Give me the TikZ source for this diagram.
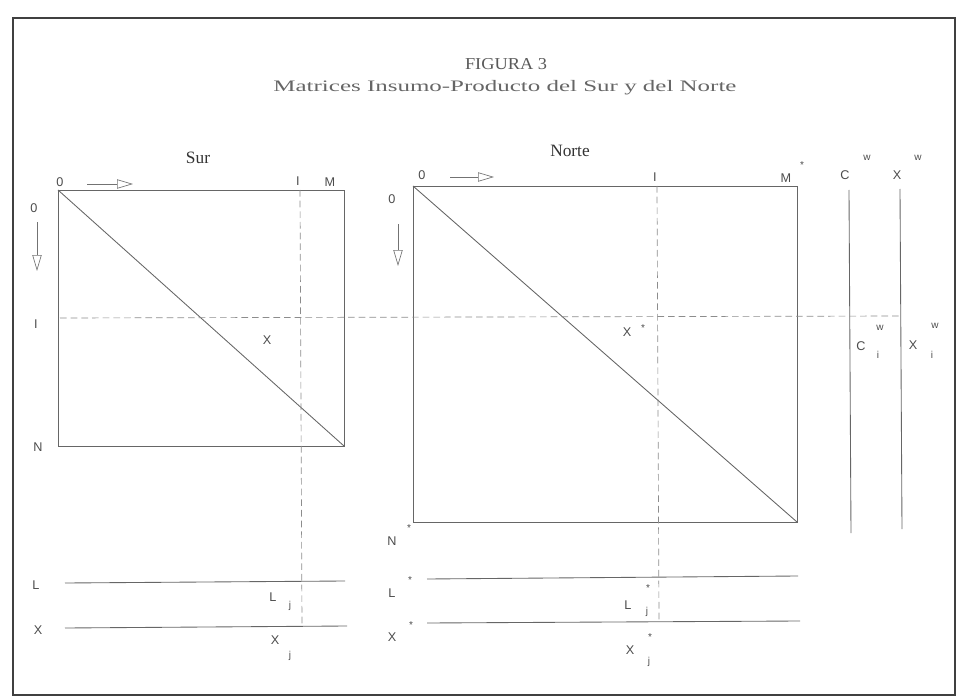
\documentclass[tikz,border=0pt]{standalone}
\usepackage{fontspec}
\setmainfont{Liberation Serif}
\setsansfont{Liberation Sans}
\newfontfamily\titlefont[FakeStretch=1.56]{Liberation Serif}
\newfontfamily\figfont[FakeStretch=1.1]{Liberation Serif}
\usetikzlibrary{positioning, arrows.meta}

\begin{document}
\begin{tikzpicture}[x=0.75pt, y=-0.75pt,
    lbl/.style={font=\sffamily\fontsize{9.5}{11}\selectfont, text=black!70, inner sep=0pt},
    idx/.style={font=\sffamily\fontsize{7.5}{8}\selectfont, text=black!70, inner sep=0pt},
    head/.style={font=\fontsize{13}{15}\selectfont, text=black!80, inner sep=0pt},
    rule/.style={draw=black!60, line width=0.65pt},
    guide/.style={draw=black!45, line width=0.5pt, dash pattern=on 5pt off 3pt},
    dirarr/.style={draw=black!55, line width=0.5pt,
                   -{Triangle[open, length=12pt, width=7pt]}}
  ]
    \useasboundingbox (0,0) rectangle (958,699);
    % frame
    \draw[draw=black!75, line width=1.2pt] (13,18) rectangle (955,695);
    % title
    \node[head, text=black!65, font=\figfont\fontsize{12.5}{15}\selectfont] (fig) at (506,64) {FIGURA 3};
    \node[head, text=black!60, font=\titlefont\fontsize{12}{14}\selectfont] (sub) at (505,88)
      {Matrices Insumo-Producto del Sur y del Norte};
    \node[head] (sur) at (198,158) {Sur};
    \node[head] (norte) at (570,151) {Norte};

    % Sur matrix
    \coordinate (s00) at (58,190);
    \coordinate (sNM) at (344,446);
    \draw[rule] (s00) rectangle (sNM);
    \draw[rule] (s00) -- (sNM);
    \node[lbl] (s0t) at (60,182) {0};
    \node[lbl] (s0l) at (34,208) {0};
    \node[lbl] (sI) at (36,324) {I};
    \node[lbl] (sN) at (38,447) {N};
    \node[lbl] (sIt) at (298,181) {I};
    \node[lbl] (sM) at (330,182) {M};
    \node[lbl] (sX) at (267,340) {X};
    \coordinate (sa1) at (87,184);
    \coordinate (sa2) at (133,184);
    \coordinate (sb1) at (37,222);
    \coordinate (sb2) at (37,271);
    \draw[dirarr] (sa1) -- (sa2);
    \draw[dirarr] (sb1) -- (sb2);

    % Norte matrix
    \coordinate (n00) at (413,186);
    \coordinate (nNM) at (797,522);
    \draw[rule] (n00) rectangle (nNM);
    \draw[rule] (n00) -- (nNM);
    \node[lbl] (n0t) at (422,175) {0};
    \node[lbl] (n0l) at (392,199) {0};
    \node[lbl] (nIt) at (655,177) {I};
    \node[lbl] (nM) at (786,178) {M};
    \node[idx] (nMs) at (802,165) {*};
    \node[lbl] (nN) at (392,541) {N};
    \node[idx] (nNs) at (409,528) {*};
    \node[lbl] (nX) at (627,332) {X};
    \node[idx] (nXs) at (643,328) {*};
    \coordinate (na1) at (450,177);
    \coordinate (na2) at (494,177);
    \coordinate (nb1) at (398,224);
    \coordinate (nb2) at (398,266);
    \draw[dirarr] (na1) -- (na2);
    \draw[dirarr] (nb1) -- (nb2);

    % world columns
    \node[lbl] (cw) at (845,175) {C};
    \node[idx] (cws) at (867,158) {w};
    \node[lbl] (xw) at (897,175) {X};
    \node[idx] (xws) at (918,158) {w};
    \coordinate (cw1) at (849,190);
    \coordinate (cw2) at (851,533);
    \coordinate (xw1) at (900,189);
    \coordinate (xw2) at (902,529);
    \draw[rule] (cw1) -- (cw2);
    \draw[rule] (xw1) -- (xw2);
    \node[lbl] (cwi) at (861,346) {C};
    \node[idx] (cwis) at (880,328) {w};
    \node[idx] (cwii) at (878,355) {i};
    \node[lbl] (xwi) at (913,345) {X};
    \node[idx] (xwis) at (935,326) {w};
    \node[idx] (xwii) at (932,355) {i};

    % bottom rows, Sur
    \node[lbl] (sL) at (36,585) {L};
    \node[lbl] (sXb) at (38,630) {X};
    \coordinate (sL1) at (65,583);
    \coordinate (sL2) at (345,581);
    \coordinate (sX1) at (65,628);
    \coordinate (sX2) at (347,626);
    \draw[rule] (sL1) -- (sL2);
    \draw[rule] (sX1) -- (sX2);
    \node[lbl] (sLj) at (273,597) {L};
    \node[idx] (sLji) at (290,606) {j};
    \node[lbl] (sXj) at (275,640) {X};
    \node[idx] (sXji) at (290,656) {j};

    % bottom rows, Norte
    \node[lbl] (nL) at (392,593) {L};
    \node[idx] (nLs) at (410,580) {*};
    \node[lbl] (nXb) at (392,637) {X};
    \node[idx] (nXbs) at (411,625) {*};
    \coordinate (nL1) at (427,579);
    \coordinate (nL2) at (798,576);
    \coordinate (nX1) at (427,623);
    \coordinate (nX2) at (800,621);
    \draw[rule] (nL1) -- (nL2);
    \draw[rule] (nX1) -- (nX2);
    \node[lbl] (nLj) at (628,605) {L};
    \node[idx] (nLjs) at (648,588) {*};
    \node[idx] (nLji) at (647,612) {j};
    \node[lbl] (nXj) at (630,650) {X};
    \node[idx] (nXjs) at (650,637) {*};
    \node[idx] (nXji) at (649,662) {j};

    % guide lines
    \coordinate (gi1) at (60,318);
    \coordinate (gi2) at (900,316);
    \coordinate (gs1) at (300,190);
    \coordinate (gs2) at (302,626);
    \coordinate (gn1) at (657,186);
    \coordinate (gn2) at (659,621);
    \draw[guide] (gi1) -- (gi2);
    \draw[guide] (gs1) -- (gs2);
    \draw[guide] (gn1) -- (gn2);
  \end{tikzpicture}
\end{document}
